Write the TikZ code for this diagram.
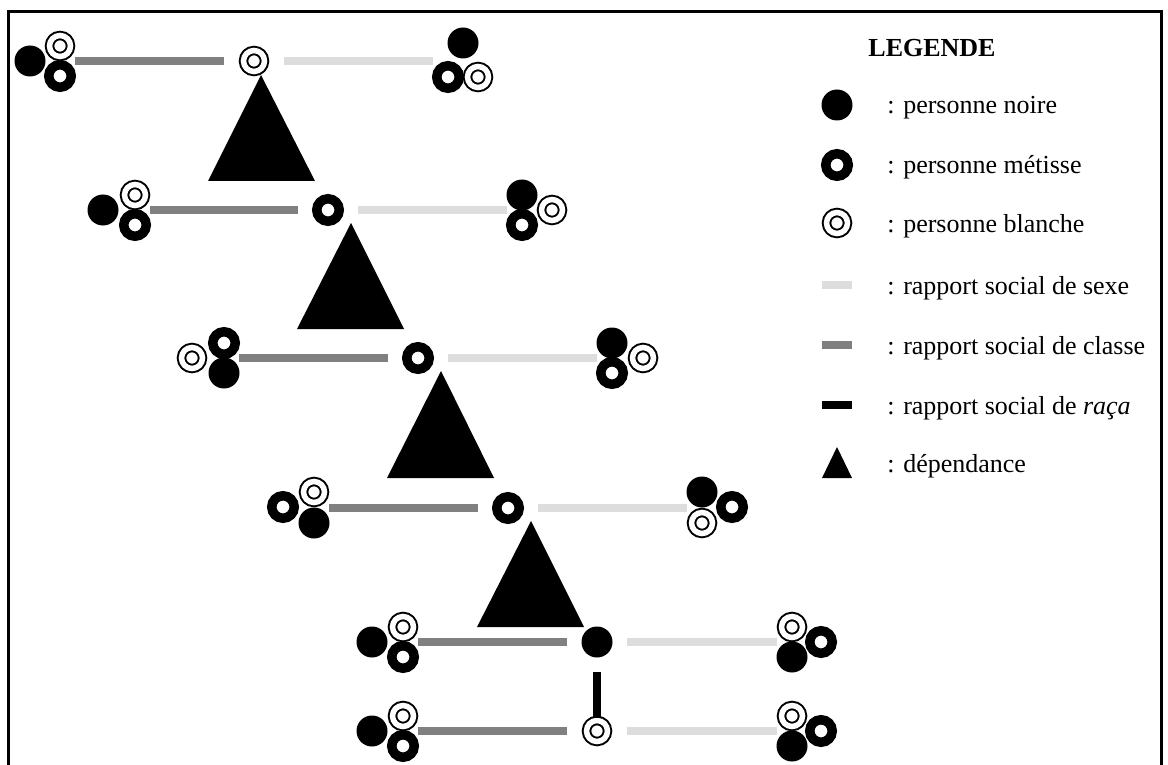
\documentclass[tikz,border=0pt]{standalone}
\usepackage{fontspec}
\setmainfont{Liberation Serif}
\usetikzlibrary{calc}
\definecolor{SexeGray}{HTML}{DDDDDD}
\definecolor{ClasseGray}{HTML}{808080}
\tikzset{
  noire/.style={circle,fill=black,inner sep=0pt,minimum size=15.5pt},
  metisse/.style={circle,draw=black,line width=4.75pt,fill=white,inner sep=0pt,minimum size=11.25pt},
  blanche/.style={circle,draw=black,line width=1pt,double=white,double distance=2.75pt,fill=white,inner sep=0pt,minimum size=10.5pt},
  sexe/.style={draw=SexeGray,line width=4pt},
  classe/.style={draw=ClasseGray,line width=4pt},
  raca/.style={draw=black,line width=4pt},
  dependance/.style={fill=black},
  frame/.style={draw=black,line width=1.5pt},
  legtext/.style={anchor=base west,inner sep=0pt,font=\fontsize{13pt}{15pt}\selectfont},
  legtitle/.style={anchor=base,inner sep=0pt,font=\fontsize{13pt}{15pt}\selectfont\bfseries}
}
\begin{document}
\begin{tikzpicture}[x=0.5pt,y=-0.5pt]
  \clip (0,0) rectangle (1168,765);
  \draw[frame] (8,12) rectangle (1161,800);

  % rang 1
  \node[noire] (n1a) at (30,61) {};
  \node[blanche] (n1b) at (60,46) {};
  \node[metisse] (n1c) at (60,76) {};
  \node[blanche] (c1) at (254,61) {};
  \node[noire] (n1d) at (463,43) {};
  \node[metisse] (n1e) at (448,77) {};
  \node[blanche] (n1f) at (478,77) {};
  \draw[classe,shorten <=7.5pt,shorten >=15pt] (n1c.center |- c1.center) -- (c1.center);
  \draw[sexe,shorten <=15pt,shorten >=7.5pt] (c1.center) -- (n1e.center |- c1.center);
  \fill[dependance] (261,75) -- (315,181) -- (208,181) -- cycle;

  % rang 2
  \node[noire] (n2a) at (103,210) {};
  \node[blanche] (n2b) at (135,195) {};
  \node[metisse] (n2c) at (135,225) {};
  \node[metisse] (c2) at (328,210) {};
  \node[noire] (n2d) at (522,195) {};
  \node[metisse] (n2e) at (522,225) {};
  \node[blanche] (n2f) at (552,210) {};
  \draw[classe,shorten <=7.5pt,shorten >=15pt] (n2c.center |- c2.center) -- (c2.center);
  \draw[sexe,shorten <=15pt,shorten >=7.5pt] (c2.center) -- (n2d.center |- c2.center);
  \fill[dependance] (351,223) -- (404,329) -- (297,329) -- cycle;

  % rang 3
  \node[blanche] (n3a) at (192,358) {};
  \node[metisse] (n3b) at (224,343) {};
  \node[noire] (n3c) at (224,373) {};
  \node[metisse] (c3) at (418,358) {};
  \node[noire] (n3d) at (612,343) {};
  \node[metisse] (n3e) at (612,373) {};
  \node[blanche] (n3f) at (643,358) {};
  \draw[classe,shorten <=7.5pt,shorten >=15pt] (n3b.center |- c3.center) -- (c3.center);
  \draw[sexe,shorten <=15pt,shorten >=7.5pt] (c3.center) -- (n3d.center |- c3.center);
  \fill[dependance] (441,371) -- (494,478) -- (387,478) -- cycle;

  % rang 4
  \node[metisse] (n4a) at (283,507) {};
  \node[blanche] (n4b) at (314,492) {};
  \node[noire] (n4c) at (314,523) {};
  \node[metisse] (c4) at (508,508) {};
  \node[noire] (n4d) at (702,492) {};
  \node[blanche] (n4e) at (702,523) {};
  \node[metisse] (n4f) at (732,507) {};
  \draw[classe,shorten <=7.5pt,shorten >=15pt] (n4b.center |- c4.center) -- (c4.center);
  \draw[sexe,shorten <=15pt,shorten >=7.5pt] (c4.center) -- (n4d.center |- c4.center);
  \fill[dependance] (531,521) -- (584,627) -- (477,627) -- cycle;

  % rang 5
  \node[noire] (n5a) at (372,642) {};
  \node[blanche] (n5b) at (403,627) {};
  \node[metisse] (n5c) at (403,657) {};
  \node[noire] (c5) at (597,642) {};
  \node[blanche] (n5d) at (792,627) {};
  \node[metisse] (n5e) at (821,642) {};
  \node[noire] (n5f) at (792,657) {};
  \draw[classe,shorten <=7.5pt,shorten >=15pt] (n5b.center |- c5.center) -- (c5.center);
  \draw[sexe,shorten <=15pt,shorten >=7.5pt] (c5.center) -- (n5d.center |- c5.center);

  % rang 6
  \node[noire] (n6a) at (372,731) {};
  \node[blanche] (n6b) at (403,716) {};
  \node[metisse] (n6c) at (403,746) {};
  \node[blanche] (c6) at (597,731) {};
  \node[blanche] (n6d) at (792,716) {};
  \node[metisse] (n6e) at (821,731) {};
  \node[noire] (n6f) at (792,746) {};
  \draw[classe,shorten <=7.5pt,shorten >=15pt] (n6b.center |- c6.center) -- (c6.center);
  \draw[sexe,shorten <=15pt,shorten >=7.5pt] (c6.center) -- (n6d.center |- c6.center);
  \draw[raca,shorten <=15pt,shorten >=6.5pt] (c5.center) -- (c6.center);

  % legende
  \node[legtitle] (leg) at (932,57) {LEGENDE};
  \node[noire] (kn) at (837,105) {};
  \node[legtext] (tn) at (887,114) {: personne noire};
  \node[metisse] (km) at (837,165) {};
  \node[legtext] (tm) at (887,174) {: personne métisse};
  \node[blanche] (kb) at (837,223) {};
  \node[legtext] (tb) at (887,232) {: personne blanche};
  \coordinate (ks1) at (822,285);
  \coordinate (ks2) at (852,285);
  \draw[sexe] (ks1) -- (ks2);
  \node[legtext] (ts) at (887,294) {: rapport social de sexe};
  \coordinate (kc1) at (822,345);
  \coordinate (kc2) at (852,345);
  \draw[classe] (kc1) -- (kc2);
  \node[legtext] (tc) at (887,354) {: rapport social de classe};
  \coordinate (kr1) at (822,405);
  \coordinate (kr2) at (852,405);
  \draw[raca] (kr1) -- (kr2);
  \node[legtext] (tr) at (887,414) {: rapport social de \textit{raça}};
  \fill[dependance] (837,447) -- (852,478) -- (822,478) -- cycle;
  \node[legtext] (td) at (887,472) {: dépendance};
\end{tikzpicture}
\end{document}
